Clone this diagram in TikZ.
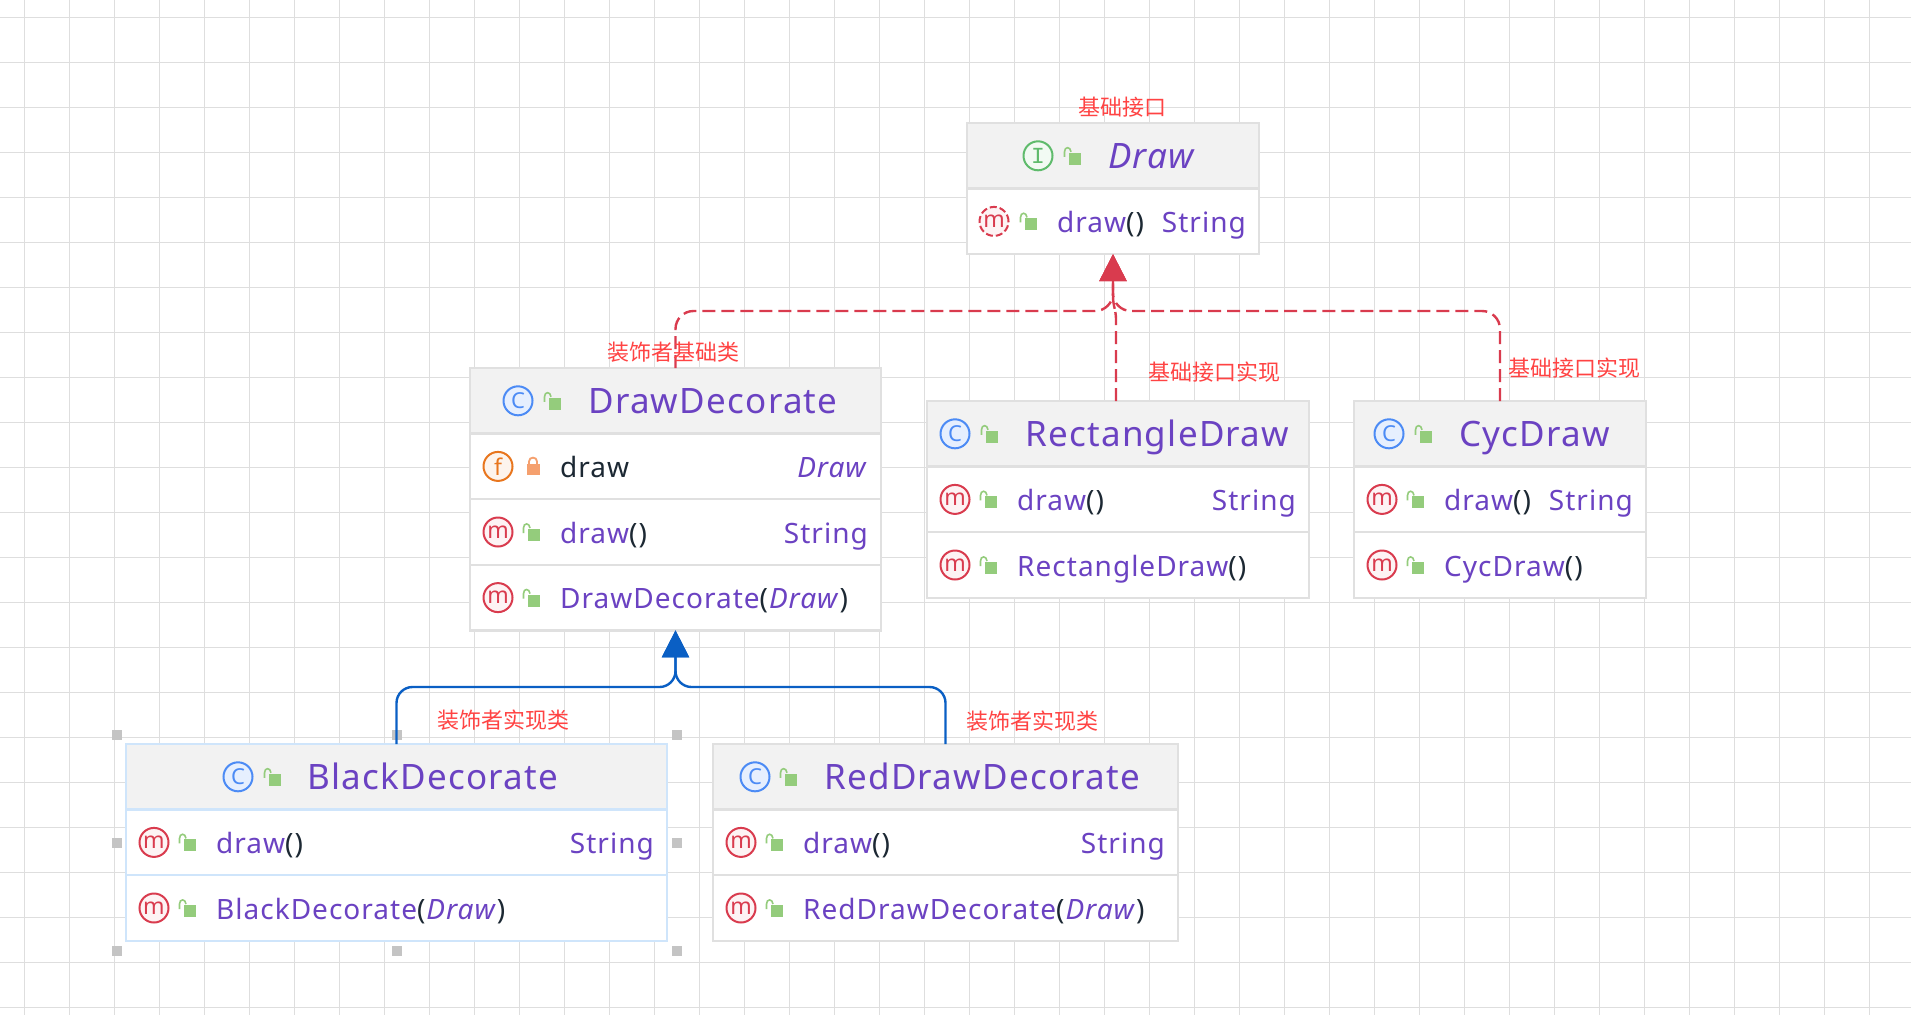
\documentclass[tikz,border=0pt]{standalone}
\usepackage{fontspec}
\usepackage{xcolor}
\usetikzlibrary{arrows.meta,positioning}
\setmainfont[LetterSpace=3.6]{Noto Sans}
\newfontfamily\cjkfont{Noto Sans CJK SC}
\newfontfamily\iconfont{Liberation Mono}
\definecolor{gridink}{HTML}{DEDEDE}
\definecolor{boxline}{HTML}{E0E0E0}
\definecolor{selline}{HTML}{CFE5FB}
\definecolor{headfill}{HTML}{F2F2F2}
\definecolor{nameink}{HTML}{6B42C2}
\definecolor{parenink}{HTML}{1C2833}
\definecolor{noteink}{HTML}{FF4343}
\definecolor{implred}{HTML}{D93B4E}
\definecolor{extblue}{HTML}{0A5FC4}
\definecolor{lockgreen}{HTML}{94CC7C}
\definecolor{lockorange}{HTML}{F5A06E}
\definecolor{iconblue}{HTML}{4C8BF5}
\definecolor{icongreen}{HTML}{5FBB6C}
\definecolor{iconorange}{HTML}{E8761E}
\newcommand{\parens}[1]{\textcolor{parenink}{\textbf{#1}}}

\begin{document}
\begin{tikzpicture}[
  x=1pt,y=-1pt,
  head/.style={draw=boxline,fill=headfill,line width=2.5pt,outer sep=0pt,minimum height=65.6pt},
  row/.style={draw=boxline,fill=white,line width=2.5pt,outer sep=0pt,minimum height=65.6pt},
  selected/.style={draw=selline},
  title/.style={anchor=base west,inner sep=0pt,text=nameink,font=\fontsize{35}{40}\selectfont},
  member/.style={anchor=base west,inner sep=0pt,text=nameink,font=\fontsize{28}{34}\selectfont},
  kind/.style={anchor=base east,inner sep=0pt,text=nameink,font=\fontsize{28}{34}\selectfont},
  icon/.style={circle,inner sep=0pt,minimum size=29pt,line width=2pt,font=\fontsize{23}{23}\selectfont},
  iconm/.style={icon,draw=implred,fill=implred!6,text=implred},
  iconc/.style={icon,draw=iconblue,fill=iconblue!14,text=iconblue,font=\fontsize{22}{22}\selectfont},
  iconi/.style={icon,draw=icongreen,fill=icongreen!8,text=icongreen,font=\iconfont\fontsize{23}{23}\selectfont},
  iconf/.style={icon,draw=iconorange,fill=iconorange!8,text=iconorange},
  note/.style={inner sep=0pt,text=noteink,font=\cjkfont\fontsize{22}{26}\selectfont},
  grip/.style={fill=black!23,inner sep=0pt,minimum size=10pt},
  implarr/.style={-{Triangle[length=27pt,width=27pt]},draw=implred,line width=2.4pt,dash pattern=on 13pt off 6pt,rounded corners=18pt},
  extarr/.style={-{Triangle[length=27pt,width=27pt]},draw=extblue,line width=2.4pt,rounded corners=16pt},
  pics/lockopen/.style={code={
    \fill[lockgreen] (-3,-3) rectangle (9,9);
    \draw[lockgreen,line width=1.6pt] (-7.5,1) -- (-7.5,-4) .. controls (-7.5,-9.5) and (-1.5,-9.5) .. (-1,-4);}},
  pics/lockshut/.style={code={
    \fill[lockorange] (-6.5,-2) rectangle (6.5,9);
    \draw[lockorange,line width=1.8pt] (-4,-2) -- (-4,-5) .. controls (-4,-10) and (4,-10) .. (4,-5) -- (4,-2);}}]
\useasboundingbox (0,0) rectangle (1911,1015);
% paper grid
\foreach \gx in {0,...,41} \draw[gridink,line width=1pt] (24.5+45*\gx,0) -- (24.5+45*\gx,1015);
\foreach \gy in {0,...,22} \draw[gridink,line width=1pt] (0,17+45*\gy) -- (1911,17+45*\gy);
% selection handles
\foreach \hx/\hy [count=\hi] in {117/735,396.5/735,677/735,117/843,677/843,117/951,396.5/951,677/951}
  \node[grip] (grip\hi) at (\hx,\hy) {};

% interface
\node[head,minimum width=292pt,anchor=north west] (drawHead) at (967,123) {};
\node[iconi] (drawIcon) at ([xshift=71pt]drawHead.west) {I};
\pic at ([xshift=105pt]drawHead.west) {lockopen};
\node[title] (drawTitle) at ([xshift=141pt,yshift=-13pt]drawHead.west) {\textit{Draw}};
\node[row,minimum width=292pt,below=0pt of drawHead] (drawRow) {};
\node[iconm,dash pattern=on 7pt off 3pt] (drawRowIcon) at ([xshift=27pt]drawRow.west) {m};
\pic at ([xshift=61pt]drawRow.west) {lockopen};
\node[member] (drawRowName) at ([xshift=90pt,yshift=-11pt]drawRow.west) {draw\parens{()}};
\node[kind] (drawRowKind) at ([xshift=-13pt,yshift=-11pt]drawRow.east) {String};

% decorator base
\node[head,minimum width=411pt,anchor=north west] (decoHead) at (470,368) {};
\node[iconc] (decoIcon) at ([xshift=48pt]decoHead.west) {C};
\pic at ([xshift=82pt]decoHead.west) {lockopen};
\node[title] (decoTitle) at ([xshift=118pt,yshift=-13pt]decoHead.west) {DrawDecorate};
\node[row,minimum width=411pt,below=0pt of decoHead] (decoField) {};
\node[iconf] (decoFieldIcon) at ([xshift=28pt]decoField.west) {f};
\pic at ([xshift=63pt]decoField.west) {lockshut};
\node[member,text=parenink] (decoFieldName) at ([xshift=90pt,yshift=-11pt]decoField.west) {draw};
\node[kind] (decoFieldKind) at ([xshift=-13pt,yshift=-11pt]decoField.east) {\textit{Draw}};
\node[row,minimum width=411pt,below=0pt of decoField] (decoDraw) {};
\node[iconm] (decoDrawIcon) at ([xshift=28pt]decoDraw.west) {m};
\pic at ([xshift=61pt]decoDraw.west) {lockopen};
\node[member] (decoDrawName) at ([xshift=90pt,yshift=-11pt]decoDraw.west) {draw\parens{()}};
\node[kind] (decoDrawKind) at ([xshift=-13pt,yshift=-11pt]decoDraw.east) {String};
\node[row,minimum width=411pt,below=0pt of decoDraw] (decoMake) {};
\node[iconm] (decoMakeIcon) at ([xshift=28pt]decoMake.west) {m};
\pic at ([xshift=61pt]decoMake.west) {lockopen};
\node[member] (decoMakeName) at ([xshift=90pt,yshift=-11pt]decoMake.west) {DrawDecorate\parens{(}\textit{Draw}\parens{)}};

% rectangle
\node[head,minimum width=382pt,anchor=north west] (rectHead) at (927,401) {};
\node[iconc] (rectIcon) at ([xshift=28pt]rectHead.west) {C};
\pic at ([xshift=62pt]rectHead.west) {lockopen};
\node[title] (rectTitle) at ([xshift=98pt,yshift=-13pt]rectHead.west) {RectangleDraw};
\node[row,minimum width=382pt,below=0pt of rectHead] (rectDraw) {};
\node[iconm] (rectDrawIcon) at ([xshift=28pt]rectDraw.west) {m};
\pic at ([xshift=61pt]rectDraw.west) {lockopen};
\node[member] (rectDrawName) at ([xshift=90pt,yshift=-11pt]rectDraw.west) {draw\parens{()}};
\node[kind] (rectDrawKind) at ([xshift=-13pt,yshift=-11pt]rectDraw.east) {String};
\node[row,minimum width=382pt,below=0pt of rectDraw] (rectMake) {};
\node[iconm] (rectMakeIcon) at ([xshift=28pt]rectMake.west) {m};
\pic at ([xshift=61pt]rectMake.west) {lockopen};
\node[member] (rectMakeName) at ([xshift=90pt,yshift=-11pt]rectMake.west) {RectangleDraw\parens{()}};

% circle
\node[head,minimum width=292pt,right=45pt of rectHead] (cycHead) {};
\node[iconc] (cycIcon) at ([xshift=35pt]cycHead.west) {C};
\pic at ([xshift=69pt]cycHead.west) {lockopen};
\node[title] (cycTitle) at ([xshift=105pt,yshift=-13pt]cycHead.west) {CycDraw};
\node[row,minimum width=292pt,below=0pt of cycHead] (cycDraw) {};
\node[iconm] (cycDrawIcon) at ([xshift=28pt]cycDraw.west) {m};
\pic at ([xshift=61pt]cycDraw.west) {lockopen};
\node[member] (cycDrawName) at ([xshift=90pt,yshift=-11pt]cycDraw.west) {draw\parens{()}};
\node[kind] (cycDrawKind) at ([xshift=-13pt,yshift=-11pt]cycDraw.east) {String};
\node[row,minimum width=292pt,below=0pt of cycDraw] (cycMake) {};
\node[iconm] (cycMakeIcon) at ([xshift=28pt]cycMake.west) {m};
\pic at ([xshift=61pt]cycMake.west) {lockopen};
\node[member] (cycMakeName) at ([xshift=90pt,yshift=-11pt]cycMake.west) {CycDraw\parens{()}};

% black decorator
\node[head,selected,minimum width=541pt,anchor=north west] (blackHead) at (126,744) {};
\node[iconc] (blackIcon) at ([xshift=112pt]blackHead.west) {C};
\pic at ([xshift=146pt]blackHead.west) {lockopen};
\node[title] (blackTitle) at ([xshift=181pt,yshift=-13pt]blackHead.west) {BlackDecorate};
\node[row,selected,minimum width=541pt,below=0pt of blackHead] (blackDraw) {};
\node[iconm] (blackDrawIcon) at ([xshift=28pt]blackDraw.west) {m};
\pic at ([xshift=61pt]blackDraw.west) {lockopen};
\node[member] (blackDrawName) at ([xshift=90pt,yshift=-11pt]blackDraw.west) {draw\parens{()}};
\node[kind] (blackDrawKind) at ([xshift=-13pt,yshift=-11pt]blackDraw.east) {String};
\node[row,selected,minimum width=541pt,below=0pt of blackDraw] (blackMake) {};
\node[iconm] (blackMakeIcon) at ([xshift=28pt]blackMake.west) {m};
\pic at ([xshift=61pt]blackMake.west) {lockopen};
\node[member] (blackMakeName) at ([xshift=90pt,yshift=-11pt]blackMake.west) {BlackDecorate\parens{(}\textit{Draw}\parens{)}};

% red decorator
\node[head,minimum width=465pt,right=46pt of blackHead] (redHead) {};
\node[iconc] (redIcon) at ([xshift=42pt]redHead.west) {C};
\pic at ([xshift=75pt]redHead.west) {lockopen};
\node[title] (redTitle) at ([xshift=111pt,yshift=-13pt]redHead.west) {RedDrawDecorate};
\node[row,minimum width=465pt,below=0pt of redHead] (redDraw) {};
\node[iconm] (redDrawIcon) at ([xshift=28pt]redDraw.west) {m};
\pic at ([xshift=61pt]redDraw.west) {lockopen};
\node[member] (redDrawName) at ([xshift=90pt,yshift=-11pt]redDraw.west) {draw\parens{()}};
\node[kind] (redDrawKind) at ([xshift=-13pt,yshift=-11pt]redDraw.east) {String};
\node[row,minimum width=465pt,below=0pt of redDraw] (redMake) {};
\node[iconm] (redMakeIcon) at ([xshift=28pt]redMake.west) {m};
\pic at ([xshift=61pt]redMake.west) {lockopen};
\node[member] (redMakeName) at ([xshift=90pt,yshift=-11pt]redMake.west) {RedDrawDecorate\parens{(}\textit{Draw}\parens{)}};

% connectors
\coordinate (implBend) at (1113,311);
\coordinate (extBend) at (675.5,687);
\draw[implarr] (decoHead.north) |- (implBend) -- (drawRow.south);
\draw[implarr] (cycHead.north) |- (implBend) -- (drawRow.south);
\draw[implarr,rounded corners=6pt] ([xshift=-2pt]rectHead.north) -- ++(0,-88) -- (1113,303) -- (drawRow.south);
\draw[extarr] (blackHead.north) |- (extBend) -- (decoMake.south);
\draw[extarr] (redHead.north) |- (extBend) -- (decoMake.south);

% notes
\node[note] (noteDraw) at (1122.5,107) {基础接口};
\node[note] (noteDeco) at (673.5,352) {装饰者基础类};
\node[note] (noteRect) at (1214,372) {基础接口实现};
\node[note] (noteCyc) at (1574,368) {基础接口实现};
\node[note] (noteBlack) at (503,720) {装饰者实现类};
\node[note] (noteRed) at (1032,721) {装饰者实现类};
\end{tikzpicture}
\end{document}
